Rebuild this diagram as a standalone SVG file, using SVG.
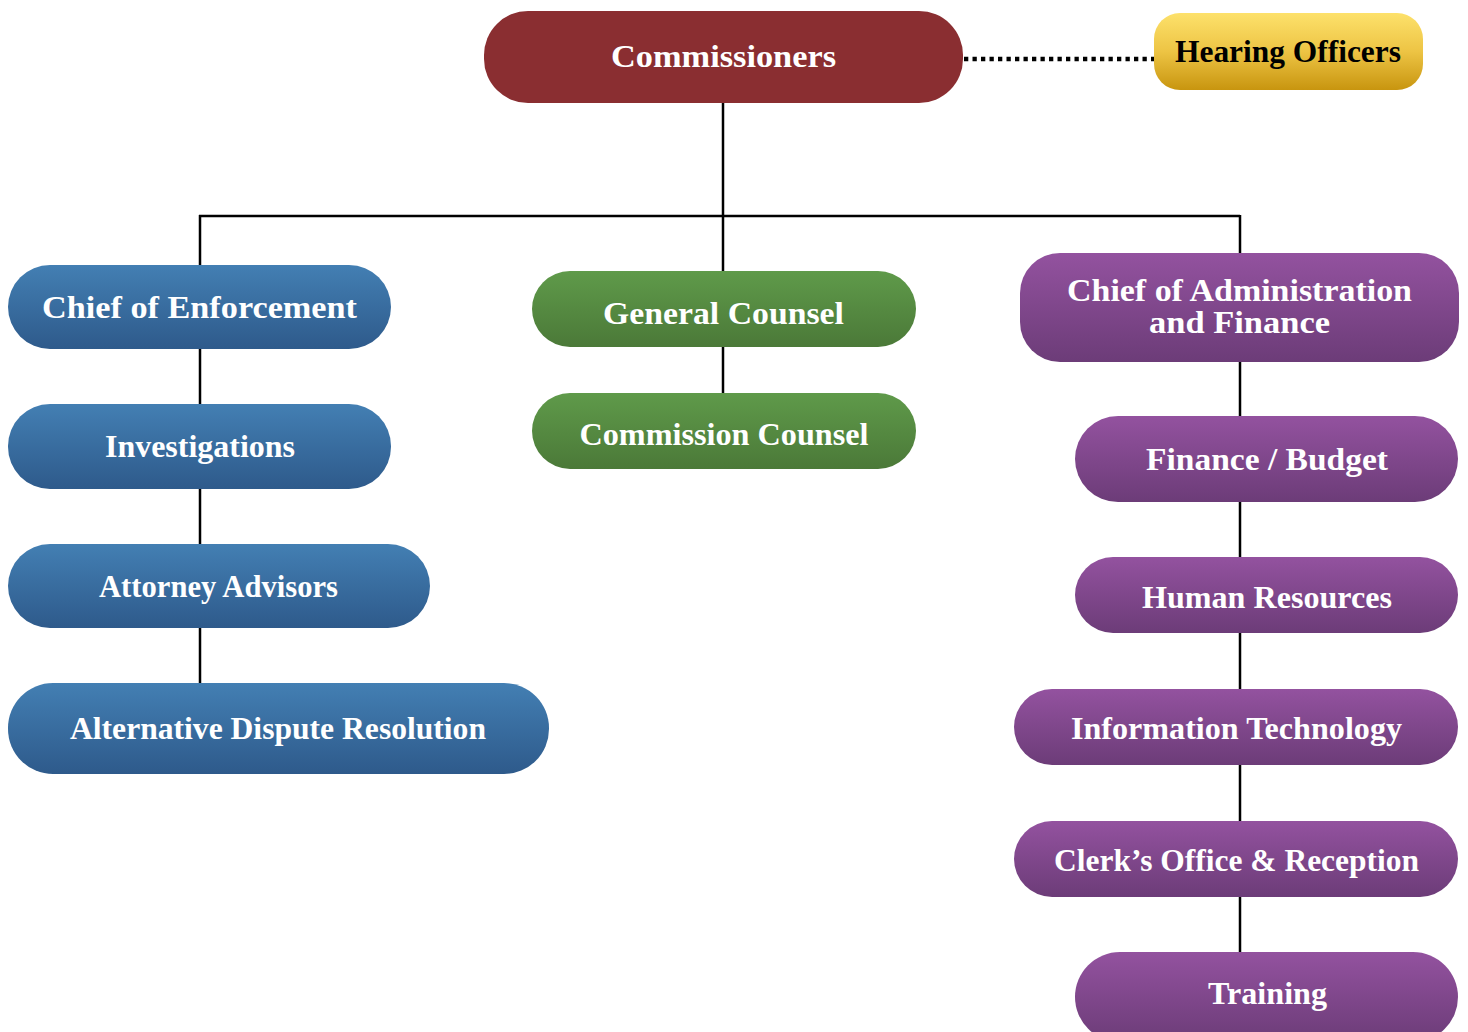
<svg xmlns="http://www.w3.org/2000/svg" width="1468" height="1032" viewBox="0 0 1468 1032">
<defs>
<linearGradient id="gBlue" x1="0" y1="0" x2="0" y2="1"><stop offset="0" stop-color="#437FB3"/><stop offset="1" stop-color="#2E5A8B"/></linearGradient>
<linearGradient id="gGreen" x1="0" y1="0" x2="0" y2="1"><stop offset="0" stop-color="#5F9A4A"/><stop offset="1" stop-color="#4B7938"/></linearGradient>
<linearGradient id="gPurple" x1="0" y1="0" x2="0" y2="1"><stop offset="0" stop-color="#93529F"/><stop offset="1" stop-color="#6C3C78"/></linearGradient>
<linearGradient id="gYellow" x1="0" y1="0" x2="0" y2="1"><stop offset="0" stop-color="#FDE16B"/><stop offset="0.5" stop-color="#EDC444"/><stop offset="1" stop-color="#C8950F"/></linearGradient>
</defs>
<style>
.t{font-family:"Liberation Serif","DejaVu Serif",serif;font-weight:bold;font-size:31px;fill:#ffffff;text-anchor:middle}
.tb{fill:#000000}
.ln{stroke:#000;stroke-width:2.5;fill:none}
.dot{stroke:#000;stroke-width:4.5;fill:none;stroke-dasharray:4.3 4.2}
.blue{fill:url(#gBlue)}
.green{fill:url(#gGreen)}
.purple{fill:url(#gPurple)}
</style>
<g id="connectors">
<line class="ln" x1="723" y1="103" x2="723" y2="271"/>
<line class="ln" x1="199" y1="216" x2="1240" y2="216"/>
<line class="ln" x1="200" y1="215" x2="200" y2="683"/>
<line class="ln" x1="723" y1="347" x2="723" y2="393"/>
<line class="ln" x1="1240" y1="215" x2="1240" y2="952"/>
<line class="dot" x1="964" y1="59" x2="1154" y2="59"/>
</g>
<g id="commissioners"><rect x="484" y="11" width="479" height="92" rx="44" fill="#8A2E31"/><text class="t" x="723.5" y="67" textLength="225" lengthAdjust="spacingAndGlyphs">Commissioners</text></g>
<g id="hearing-officers"><rect x="1154" y="13" width="269" height="77" rx="26" fill="url(#gYellow)"/><text class="t tb" x="1288" y="62" textLength="226" lengthAdjust="spacingAndGlyphs">Hearing Officers</text></g>
<g id="chief-enforcement"><rect class="blue" x="8" y="265" width="383" height="84" rx="42"/><text class="t" x="199.5" y="318" textLength="315" lengthAdjust="spacingAndGlyphs">Chief of Enforcement</text></g>
<g id="investigations"><rect class="blue" x="8" y="404" width="383" height="85" rx="42"/><text class="t" x="200" y="457" textLength="190" lengthAdjust="spacingAndGlyphs">Investigations</text></g>
<g id="attorney-advisors"><rect class="blue" x="8" y="544" width="422" height="84" rx="42"/><text class="t" x="218.5" y="597" textLength="239" lengthAdjust="spacingAndGlyphs">Attorney Advisors</text></g>
<g id="adr"><rect class="blue" x="8" y="683" width="541" height="91" rx="45"/><text class="t" x="278" y="739" textLength="416" lengthAdjust="spacingAndGlyphs">Alternative Dispute Resolution</text></g>
<g id="general-counsel"><rect class="green" x="532" y="271" width="384" height="76" rx="38"/><text class="t" x="723.5" y="324" textLength="241" lengthAdjust="spacingAndGlyphs">General Counsel</text></g>
<g id="commission-counsel"><rect class="green" x="532" y="393" width="384" height="76" rx="38"/><text class="t" x="724" y="445" textLength="289" lengthAdjust="spacingAndGlyphs">Commission Counsel</text></g>
<g id="chief-admin"><rect class="purple" x="1020" y="253" width="439" height="109" rx="40"/><text class="t" x="1239.5" y="301" textLength="345" lengthAdjust="spacingAndGlyphs">Chief of Administration</text><text class="t" x="1239.5" y="333" textLength="181" lengthAdjust="spacingAndGlyphs">and Finance</text></g>
<g id="finance-budget"><rect class="purple" x="1075" y="416" width="383" height="86" rx="43"/><text class="t" x="1267" y="470" textLength="242" lengthAdjust="spacingAndGlyphs">Finance / Budget</text></g>
<g id="human-resources"><rect class="purple" x="1075" y="557" width="383" height="76" rx="38"/><text class="t" x="1267" y="608" textLength="250" lengthAdjust="spacingAndGlyphs">Human Resources</text></g>
<g id="information-technology"><rect class="purple" x="1014" y="689" width="444" height="76" rx="38"/><text class="t" x="1236.5" y="739" textLength="331" lengthAdjust="spacingAndGlyphs">Information Technology</text></g>
<g id="clerks-office"><rect class="purple" x="1014" y="821" width="444" height="76" rx="38"/><text class="t" x="1236.5" y="871" textLength="365" lengthAdjust="spacingAndGlyphs">Clerk’s Office &amp; Reception</text></g>
<g id="training"><rect class="purple" x="1075" y="952" width="383" height="90" rx="45"/><text class="t" x="1267.5" y="1004" textLength="119" lengthAdjust="spacingAndGlyphs">Training</text></g>
</svg>
